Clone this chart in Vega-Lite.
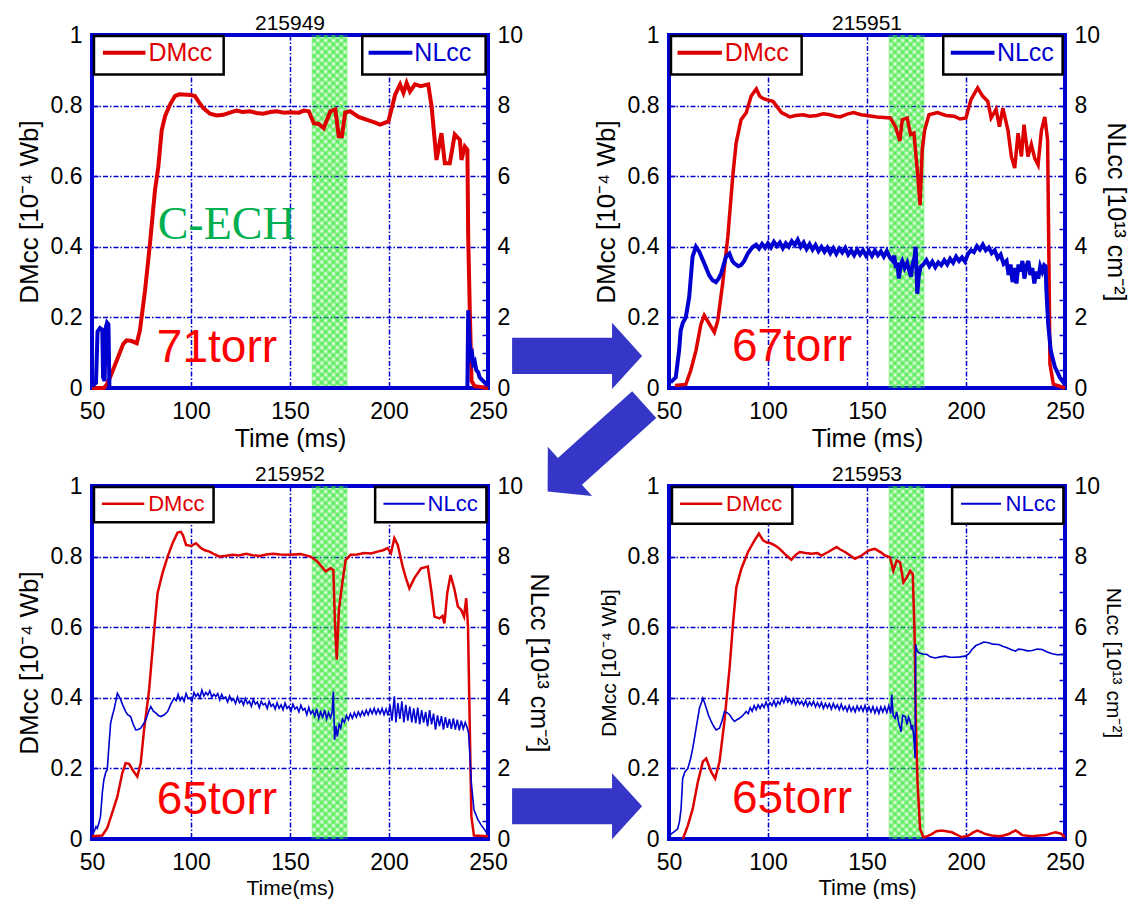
{
"$schema": "https://vega.github.io/schema/vega-lite/v6.json",
"padding": {"left": 14, "top": 11, "right": 5, "bottom": 5},
"bounds": "flush",
"columns": 2,
"spacing": {"row": 98, "column": 181},
"params": [
 {"name": "hatchA", "value": {"gradient": "linear", "x1": 0, "y1": 0, "x2": 0.11, "y2": 1.09, "stops": [
{"offset":0,"color":"rgba(40,230,40,0.6)"},{"offset":0.01,"color":"rgba(40,230,40,0)"},{"offset":0.02,"color":"rgba(40,230,40,0.6)"},{"offset":0.03,"color":"rgba(40,230,40,0)"},{"offset":0.04,"color":"rgba(40,230,40,0.6)"},{"offset":0.05,"color":"rgba(40,230,40,0)"},{"offset":0.06,"color":"rgba(40,230,40,0.6)"},{"offset":0.07,"color":"rgba(40,230,40,0)"},{"offset":0.08,"color":"rgba(40,230,40,0.6)"},{"offset":0.09,"color":"rgba(40,230,40,0)"},
{"offset":0.1,"color":"rgba(40,230,40,0.6)"},{"offset":0.11,"color":"rgba(40,230,40,0)"},{"offset":0.12,"color":"rgba(40,230,40,0.6)"},{"offset":0.13,"color":"rgba(40,230,40,0)"},{"offset":0.14,"color":"rgba(40,230,40,0.6)"},{"offset":0.15,"color":"rgba(40,230,40,0)"},{"offset":0.16,"color":"rgba(40,230,40,0.6)"},{"offset":0.17,"color":"rgba(40,230,40,0)"},{"offset":0.18,"color":"rgba(40,230,40,0.6)"},{"offset":0.19,"color":"rgba(40,230,40,0)"},
{"offset":0.2,"color":"rgba(40,230,40,0.6)"},{"offset":0.21,"color":"rgba(40,230,40,0)"},{"offset":0.22,"color":"rgba(40,230,40,0.6)"},{"offset":0.23,"color":"rgba(40,230,40,0)"},{"offset":0.24,"color":"rgba(40,230,40,0.6)"},{"offset":0.25,"color":"rgba(40,230,40,0)"},{"offset":0.26,"color":"rgba(40,230,40,0.6)"},{"offset":0.27,"color":"rgba(40,230,40,0)"},{"offset":0.28,"color":"rgba(40,230,40,0.6)"},{"offset":0.29,"color":"rgba(40,230,40,0)"},
{"offset":0.3,"color":"rgba(40,230,40,0.6)"},{"offset":0.31,"color":"rgba(40,230,40,0)"},{"offset":0.32,"color":"rgba(40,230,40,0.6)"},{"offset":0.33,"color":"rgba(40,230,40,0)"},{"offset":0.34,"color":"rgba(40,230,40,0.6)"},{"offset":0.35,"color":"rgba(40,230,40,0)"},{"offset":0.36,"color":"rgba(40,230,40,0.6)"},{"offset":0.37,"color":"rgba(40,230,40,0)"},{"offset":0.38,"color":"rgba(40,230,40,0.6)"},{"offset":0.39,"color":"rgba(40,230,40,0)"},
{"offset":0.4,"color":"rgba(40,230,40,0.6)"},{"offset":0.41,"color":"rgba(40,230,40,0)"},{"offset":0.42,"color":"rgba(40,230,40,0.6)"},{"offset":0.43,"color":"rgba(40,230,40,0)"},{"offset":0.44,"color":"rgba(40,230,40,0.6)"},{"offset":0.45,"color":"rgba(40,230,40,0)"},{"offset":0.46,"color":"rgba(40,230,40,0.6)"},{"offset":0.47,"color":"rgba(40,230,40,0)"},{"offset":0.48,"color":"rgba(40,230,40,0.6)"},{"offset":0.49,"color":"rgba(40,230,40,0)"},
{"offset":0.5,"color":"rgba(40,230,40,0.6)"},{"offset":0.51,"color":"rgba(40,230,40,0)"},{"offset":0.52,"color":"rgba(40,230,40,0.6)"},{"offset":0.53,"color":"rgba(40,230,40,0)"},{"offset":0.54,"color":"rgba(40,230,40,0.6)"},{"offset":0.55,"color":"rgba(40,230,40,0)"},{"offset":0.56,"color":"rgba(40,230,40,0.6)"},{"offset":0.57,"color":"rgba(40,230,40,0)"},{"offset":0.58,"color":"rgba(40,230,40,0.6)"},{"offset":0.59,"color":"rgba(40,230,40,0)"},
{"offset":0.6,"color":"rgba(40,230,40,0.6)"},{"offset":0.61,"color":"rgba(40,230,40,0)"},{"offset":0.62,"color":"rgba(40,230,40,0.6)"},{"offset":0.63,"color":"rgba(40,230,40,0)"},{"offset":0.64,"color":"rgba(40,230,40,0.6)"},{"offset":0.65,"color":"rgba(40,230,40,0)"},{"offset":0.66,"color":"rgba(40,230,40,0.6)"},{"offset":0.67,"color":"rgba(40,230,40,0)"},{"offset":0.68,"color":"rgba(40,230,40,0.6)"},{"offset":0.69,"color":"rgba(40,230,40,0)"},
{"offset":0.7,"color":"rgba(40,230,40,0.6)"},{"offset":0.71,"color":"rgba(40,230,40,0)"},{"offset":0.72,"color":"rgba(40,230,40,0.6)"},{"offset":0.73,"color":"rgba(40,230,40,0)"},{"offset":0.74,"color":"rgba(40,230,40,0.6)"},{"offset":0.75,"color":"rgba(40,230,40,0)"},{"offset":0.76,"color":"rgba(40,230,40,0.6)"},{"offset":0.77,"color":"rgba(40,230,40,0)"},{"offset":0.78,"color":"rgba(40,230,40,0.6)"},{"offset":0.79,"color":"rgba(40,230,40,0)"},
{"offset":0.8,"color":"rgba(40,230,40,0.6)"},{"offset":0.81,"color":"rgba(40,230,40,0)"},{"offset":0.82,"color":"rgba(40,230,40,0.6)"},{"offset":0.83,"color":"rgba(40,230,40,0)"},{"offset":0.84,"color":"rgba(40,230,40,0.6)"},{"offset":0.85,"color":"rgba(40,230,40,0)"},{"offset":0.86,"color":"rgba(40,230,40,0.6)"},{"offset":0.87,"color":"rgba(40,230,40,0)"},{"offset":0.88,"color":"rgba(40,230,40,0.6)"},{"offset":0.89,"color":"rgba(40,230,40,0)"},
{"offset":0.9,"color":"rgba(40,230,40,0.6)"},{"offset":0.91,"color":"rgba(40,230,40,0)"},{"offset":0.92,"color":"rgba(40,230,40,0.6)"},{"offset":0.93,"color":"rgba(40,230,40,0)"},{"offset":0.94,"color":"rgba(40,230,40,0.6)"},{"offset":0.95,"color":"rgba(40,230,40,0)"},{"offset":0.96,"color":"rgba(40,230,40,0.6)"},{"offset":0.97,"color":"rgba(40,230,40,0)"},{"offset":0.98,"color":"rgba(40,230,40,0.6)"},{"offset":0.99,"color":"rgba(40,230,40,0)"},{"offset":1,"color":"rgba(40,230,40,0.6)"}]}},
 {"name": "hatchB", "value": {"gradient": "linear", "x1": 1, "y1": 0, "x2": 0.89, "y2": 1.09, "stops": [
{"offset":0,"color":"rgba(40,230,40,0.6)"},{"offset":0.01,"color":"rgba(40,230,40,0)"},{"offset":0.02,"color":"rgba(40,230,40,0.6)"},{"offset":0.03,"color":"rgba(40,230,40,0)"},{"offset":0.04,"color":"rgba(40,230,40,0.6)"},{"offset":0.05,"color":"rgba(40,230,40,0)"},{"offset":0.06,"color":"rgba(40,230,40,0.6)"},{"offset":0.07,"color":"rgba(40,230,40,0)"},{"offset":0.08,"color":"rgba(40,230,40,0.6)"},{"offset":0.09,"color":"rgba(40,230,40,0)"},
{"offset":0.1,"color":"rgba(40,230,40,0.6)"},{"offset":0.11,"color":"rgba(40,230,40,0)"},{"offset":0.12,"color":"rgba(40,230,40,0.6)"},{"offset":0.13,"color":"rgba(40,230,40,0)"},{"offset":0.14,"color":"rgba(40,230,40,0.6)"},{"offset":0.15,"color":"rgba(40,230,40,0)"},{"offset":0.16,"color":"rgba(40,230,40,0.6)"},{"offset":0.17,"color":"rgba(40,230,40,0)"},{"offset":0.18,"color":"rgba(40,230,40,0.6)"},{"offset":0.19,"color":"rgba(40,230,40,0)"},
{"offset":0.2,"color":"rgba(40,230,40,0.6)"},{"offset":0.21,"color":"rgba(40,230,40,0)"},{"offset":0.22,"color":"rgba(40,230,40,0.6)"},{"offset":0.23,"color":"rgba(40,230,40,0)"},{"offset":0.24,"color":"rgba(40,230,40,0.6)"},{"offset":0.25,"color":"rgba(40,230,40,0)"},{"offset":0.26,"color":"rgba(40,230,40,0.6)"},{"offset":0.27,"color":"rgba(40,230,40,0)"},{"offset":0.28,"color":"rgba(40,230,40,0.6)"},{"offset":0.29,"color":"rgba(40,230,40,0)"},
{"offset":0.3,"color":"rgba(40,230,40,0.6)"},{"offset":0.31,"color":"rgba(40,230,40,0)"},{"offset":0.32,"color":"rgba(40,230,40,0.6)"},{"offset":0.33,"color":"rgba(40,230,40,0)"},{"offset":0.34,"color":"rgba(40,230,40,0.6)"},{"offset":0.35,"color":"rgba(40,230,40,0)"},{"offset":0.36,"color":"rgba(40,230,40,0.6)"},{"offset":0.37,"color":"rgba(40,230,40,0)"},{"offset":0.38,"color":"rgba(40,230,40,0.6)"},{"offset":0.39,"color":"rgba(40,230,40,0)"},
{"offset":0.4,"color":"rgba(40,230,40,0.6)"},{"offset":0.41,"color":"rgba(40,230,40,0)"},{"offset":0.42,"color":"rgba(40,230,40,0.6)"},{"offset":0.43,"color":"rgba(40,230,40,0)"},{"offset":0.44,"color":"rgba(40,230,40,0.6)"},{"offset":0.45,"color":"rgba(40,230,40,0)"},{"offset":0.46,"color":"rgba(40,230,40,0.6)"},{"offset":0.47,"color":"rgba(40,230,40,0)"},{"offset":0.48,"color":"rgba(40,230,40,0.6)"},{"offset":0.49,"color":"rgba(40,230,40,0)"},
{"offset":0.5,"color":"rgba(40,230,40,0.6)"},{"offset":0.51,"color":"rgba(40,230,40,0)"},{"offset":0.52,"color":"rgba(40,230,40,0.6)"},{"offset":0.53,"color":"rgba(40,230,40,0)"},{"offset":0.54,"color":"rgba(40,230,40,0.6)"},{"offset":0.55,"color":"rgba(40,230,40,0)"},{"offset":0.56,"color":"rgba(40,230,40,0.6)"},{"offset":0.57,"color":"rgba(40,230,40,0)"},{"offset":0.58,"color":"rgba(40,230,40,0.6)"},{"offset":0.59,"color":"rgba(40,230,40,0)"},
{"offset":0.6,"color":"rgba(40,230,40,0.6)"},{"offset":0.61,"color":"rgba(40,230,40,0)"},{"offset":0.62,"color":"rgba(40,230,40,0.6)"},{"offset":0.63,"color":"rgba(40,230,40,0)"},{"offset":0.64,"color":"rgba(40,230,40,0.6)"},{"offset":0.65,"color":"rgba(40,230,40,0)"},{"offset":0.66,"color":"rgba(40,230,40,0.6)"},{"offset":0.67,"color":"rgba(40,230,40,0)"},{"offset":0.68,"color":"rgba(40,230,40,0.6)"},{"offset":0.69,"color":"rgba(40,230,40,0)"},
{"offset":0.7,"color":"rgba(40,230,40,0.6)"},{"offset":0.71,"color":"rgba(40,230,40,0)"},{"offset":0.72,"color":"rgba(40,230,40,0.6)"},{"offset":0.73,"color":"rgba(40,230,40,0)"},{"offset":0.74,"color":"rgba(40,230,40,0.6)"},{"offset":0.75,"color":"rgba(40,230,40,0)"},{"offset":0.76,"color":"rgba(40,230,40,0.6)"},{"offset":0.77,"color":"rgba(40,230,40,0)"},{"offset":0.78,"color":"rgba(40,230,40,0.6)"},{"offset":0.79,"color":"rgba(40,230,40,0)"},
{"offset":0.8,"color":"rgba(40,230,40,0.6)"},{"offset":0.81,"color":"rgba(40,230,40,0)"},{"offset":0.82,"color":"rgba(40,230,40,0.6)"},{"offset":0.83,"color":"rgba(40,230,40,0)"},{"offset":0.84,"color":"rgba(40,230,40,0.6)"},{"offset":0.85,"color":"rgba(40,230,40,0)"},{"offset":0.86,"color":"rgba(40,230,40,0.6)"},{"offset":0.87,"color":"rgba(40,230,40,0)"},{"offset":0.88,"color":"rgba(40,230,40,0.6)"},{"offset":0.89,"color":"rgba(40,230,40,0)"},
{"offset":0.9,"color":"rgba(40,230,40,0.6)"},{"offset":0.91,"color":"rgba(40,230,40,0)"},{"offset":0.92,"color":"rgba(40,230,40,0.6)"},{"offset":0.93,"color":"rgba(40,230,40,0)"},{"offset":0.94,"color":"rgba(40,230,40,0.6)"},{"offset":0.95,"color":"rgba(40,230,40,0)"},{"offset":0.96,"color":"rgba(40,230,40,0.6)"},{"offset":0.97,"color":"rgba(40,230,40,0)"},{"offset":0.98,"color":"rgba(40,230,40,0.6)"},{"offset":0.99,"color":"rgba(40,230,40,0)"},{"offset":1,"color":"rgba(40,230,40,0.6)"}]}}
],
"config": {
  "font": "Liberation Sans",
  "view": {"stroke": "#0000d0", "strokeWidth": 4},
  "axis": {"labelFont": "Liberation Sans", "labelFontSize": 23, "labelColor": "#000", "titleFont": "Liberation Sans", "titleFontSize": 25, "titleFontWeight": "normal", "titleColor": "#000", "domain": false, "labelFlush": false, "labelOverlap": false},
  "title": {"font": "Liberation Sans", "fontSize": 21, "fontWeight": "normal", "color": "#000", "offset": -10},
  "style": {"group-title": {"fontSize": 21, "fontWeight": "normal", "font": "Liberation Sans"}},
  "text": {"font": "Liberation Sans"}
},
"datasets": {
  "dm1": [{"t":50,"v":0},{"t":56,"v":0},{"t":57.5,"v":0.01},{"t":59.1,"v":0.03},{"t":62.5,"v":0.078},{"t":65.8,"v":0.125},{"t":67.5,"v":0.135},{"t":70,"v":0.133},{"t":72.6,"v":0.127},{"t":74.2,"v":0.163},{"t":76.8,"v":0.277},{"t":79.3,"v":0.41},{"t":81.8,"v":0.56},{"t":83.5,"v":0.627},{"t":85.2,"v":0.73},{"t":86.9,"v":0.77},{"t":89.4,"v":0.803},{"t":91.9,"v":0.827},{"t":94,"v":0.832},{"t":97.8,"v":0.831},{"t":100,"v":0.83},{"t":102,"v":0.827},{"t":104,"v":0.81},{"t":106.2,"v":0.793},{"t":109.6,"v":0.777},{"t":113,"v":0.772},{"t":116.3,"v":0.774},{"t":120,"v":0.781},{"t":123,"v":0.786},{"t":126,"v":0.782},{"t":129.8,"v":0.784},{"t":133,"v":0.779},{"t":136.5,"v":0.777},{"t":140,"v":0.782},{"t":143.3,"v":0.784},{"t":147,"v":0.78},{"t":150,"v":0.781},{"t":154.5,"v":0.78},{"t":157,"v":0.786},{"t":159.5,"v":0.784},{"t":162,"v":0.75},{"t":164.5,"v":0.748},{"t":167,"v":0.736},{"t":170.4,"v":0.784},{"t":172.9,"v":0.789},{"t":174.6,"v":0.713},{"t":176.2,"v":0.713},{"t":177.9,"v":0.78},{"t":180.4,"v":0.784},{"t":184.6,"v":0.768},{"t":189.7,"v":0.758},{"t":193,"v":0.752},{"t":195.5,"v":0.746},{"t":199.7,"v":0.755},{"t":203.1,"v":0.831},{"t":205.6,"v":0.86},{"t":207.3,"v":0.836},{"t":208.9,"v":0.864},{"t":210.6,"v":0.84},{"t":213.1,"v":0.86},{"t":216,"v":0.855},{"t":219.8,"v":0.86},{"t":221.5,"v":0.798},{"t":224,"v":0.646},{"t":226.5,"v":0.722},{"t":228.2,"v":0.637},{"t":230.7,"v":0.637},{"t":233.2,"v":0.718},{"t":235.8,"v":0.703},{"t":236.6,"v":0.646},{"t":238.3,"v":0.684},{"t":239.6,"v":0.675},{"t":240,"v":0.43},{"t":240.8,"v":0.22},{"t":241.7,"v":0.02},{"t":243.3,"v":0.005},{"t":250,"v":0}],
  "nl1": [{"t":50,"v":0.05},{"t":52,"v":0.15},{"t":52.8,"v":1.6},{"t":54,"v":1.7},{"t":55.2,"v":1.65},{"t":55.6,"v":0.3},{"t":56.4,"v":0.2},{"t":56.9,"v":1.7},{"t":57.6,"v":1.85},{"t":58.3,"v":1.8},{"t":58.8,"v":0},{"t":150,"v":0},{"t":239.6,"v":0},{"t":240,"v":2.2},{"t":240.6,"v":1.4},{"t":241.3,"v":0.87},{"t":242,"v":0.95},{"t":242.5,"v":0.68},{"t":243.3,"v":0.75},{"t":244.1,"v":0.5},{"t":245,"v":0.45},{"t":245.8,"v":0.3},{"t":247.5,"v":0.2},{"t":250,"v":0.05}],
  "dm2": [{"t":53,"v":0.007},{"t":58.5,"v":0.01},{"t":61,"v":0.05},{"t":63.6,"v":0.106},{"t":66.1,"v":0.18},{"t":67.8,"v":0.206},{"t":70.3,"v":0.182},{"t":72.9,"v":0.158},{"t":74.6,"v":0.19},{"t":77.1,"v":0.296},{"t":79.7,"v":0.428},{"t":82.2,"v":0.6},{"t":83.9,"v":0.694},{"t":86.4,"v":0.76},{"t":89,"v":0.78},{"t":91.5,"v":0.827},{"t":94.1,"v":0.847},{"t":95.8,"v":0.827},{"t":97.5,"v":0.82},{"t":99.2,"v":0.817},{"t":102.5,"v":0.812},{"t":105.1,"v":0.793},{"t":106.8,"v":0.78},{"t":111,"v":0.768},{"t":114,"v":0.772},{"t":117.8,"v":0.774},{"t":121,"v":0.77},{"t":124.6,"v":0.772},{"t":128,"v":0.777},{"t":131.4,"v":0.774},{"t":134,"v":0.77},{"t":136.4,"v":0.768},{"t":140,"v":0.776},{"t":143.2,"v":0.78},{"t":147,"v":0.774},{"t":150,"v":0.772},{"t":155,"v":0.768},{"t":161.8,"v":0.765},{"t":164.4,"v":0.74},{"t":166.6,"v":0.7},{"t":167.8,"v":0.76},{"t":170.3,"v":0.765},{"t":172,"v":0.718},{"t":173.7,"v":0.722},{"t":175.4,"v":0.618},{"t":176.8,"v":0.518},{"t":177.9,"v":0.675},{"t":179.1,"v":0.73},{"t":181.3,"v":0.774},{"t":185.6,"v":0.78},{"t":189.8,"v":0.772},{"t":194,"v":0.77},{"t":197,"v":0.762},{"t":200,"v":0.765},{"t":202.5,"v":0.817},{"t":205.9,"v":0.85},{"t":208.4,"v":0.827},{"t":211,"v":0.812},{"t":212.7,"v":0.765},{"t":215.2,"v":0.789},{"t":216.9,"v":0.74},{"t":218.6,"v":0.793},{"t":221.2,"v":0.73},{"t":222.9,"v":0.656},{"t":224.6,"v":0.623},{"t":226.3,"v":0.722},{"t":228,"v":0.656},{"t":229.3,"v":0.746},{"t":231.3,"v":0.656},{"t":233,"v":0.69},{"t":234.7,"v":0.651},{"t":236.4,"v":0.632},{"t":238.1,"v":0.73},{"t":239.8,"v":0.768},{"t":241.2,"v":0.703},{"t":241.9,"v":0.353},{"t":242.4,"v":0.068},{"t":244.1,"v":0.011},{"t":250,"v":0}],
  "nl2": [{"t":50.8,"v":0.16},{"t":53.4,"v":0.3},{"t":55.1,"v":1.06},{"t":55.9,"v":1.63},{"t":57,"v":1.85},{"t":58.5,"v":2.0},{"t":60.2,"v":2.58},{"t":61.9,"v":3.72},{"t":63.6,"v":4.0},{"t":65.3,"v":3.86},{"t":67.8,"v":3.53},{"t":70.3,"v":3.19},{"t":72,"v":3.05},{"t":73.7,"v":3.0},{"t":75,"v":3.1},{"t":76.3,"v":3.24},{"t":78.8,"v":3.72},{"t":80.5,"v":3.81},{"t":82,"v":3.6},{"t":83,"v":3.53},{"t":85,"v":3.45},{"t":86.4,"v":3.48},{"t":88,"v":3.6},{"t":89.8,"v":3.81},{"t":91,"v":3.9},{"t":92.4,"v":4.0},{"t":94,"v":4.06},{"t":95.5,"v":3.95},{"t":97,"v":4.08},{"t":98.5,"v":3.97},{"t":100,"v":4.1},{"t":101.5,"v":3.98},{"t":103,"v":4.14},{"t":104.5,"v":4.02},{"t":106,"v":4.12},{"t":107.5,"v":3.96},{"t":109,"v":4.1},{"t":110.5,"v":4.0},{"t":112,"v":4.16},{"t":113.5,"v":4.05},{"t":115,"v":4.2},{"t":116.5,"v":4.0},{"t":118,"v":4.12},{"t":119.5,"v":3.94},{"t":121,"v":4.08},{"t":122.5,"v":3.92},{"t":124,"v":4.05},{"t":125.5,"v":3.88},{"t":127,"v":4.0},{"t":128.5,"v":3.86},{"t":130,"v":3.98},{"t":131.5,"v":3.82},{"t":133,"v":3.96},{"t":134.5,"v":3.8},{"t":136,"v":3.95},{"t":137.5,"v":3.84},{"t":139,"v":3.97},{"t":140.5,"v":3.78},{"t":142,"v":3.9},{"t":143.5,"v":3.76},{"t":145,"v":3.92},{"t":146.5,"v":3.78},{"t":148,"v":3.9},{"t":149.5,"v":3.75},{"t":151,"v":3.88},{"t":152.5,"v":3.74},{"t":154,"v":3.9},{"t":155.5,"v":3.76},{"t":157,"v":3.87},{"t":158.5,"v":3.72},{"t":160,"v":3.88},{"t":161.5,"v":3.7},{"t":163,"v":3.6},{"t":163.8,"v":3.75},{"t":164.5,"v":3.4},{"t":165.3,"v":3.55},{"t":166.1,"v":3.1},{"t":167,"v":3.5},{"t":167.8,"v":3.6},{"t":169,"v":3.4},{"t":170.3,"v":3.55},{"t":171.2,"v":3.35},{"t":172.2,"v":3.15},{"t":173,"v":3.5},{"t":174,"v":3.7},{"t":174.6,"v":4.0},{"t":175,"v":3.3},{"t":175.4,"v":2.67},{"t":176.2,"v":3.2},{"t":177.1,"v":3.43},{"t":178.5,"v":3.5},{"t":180,"v":3.62},{"t":181.5,"v":3.45},{"t":183,"v":3.58},{"t":184.5,"v":3.42},{"t":186,"v":3.56},{"t":187.5,"v":3.48},{"t":189,"v":3.62},{"t":190.5,"v":3.5},{"t":192,"v":3.66},{"t":193.5,"v":3.55},{"t":195,"v":3.72},{"t":196.5,"v":3.6},{"t":198,"v":3.7},{"t":199.5,"v":3.58},{"t":201,"v":3.8},{"t":202.5,"v":3.9},{"t":204,"v":3.85},{"t":205.5,"v":4.02},{"t":207,"v":3.92},{"t":208.5,"v":4.06},{"t":210,"v":3.9},{"t":211.5,"v":3.98},{"t":213,"v":3.82},{"t":214.5,"v":3.9},{"t":216,"v":3.68},{"t":217.5,"v":3.78},{"t":219,"v":3.52},{"t":220.5,"v":3.6},{"t":221.5,"v":3.2},{"t":222.5,"v":3.5},{"t":223.5,"v":3.0},{"t":224.5,"v":3.4},{"t":225.5,"v":2.96},{"t":226.5,"v":3.5},{"t":227.5,"v":3.3},{"t":228.5,"v":3.6},{"t":229.5,"v":3.1},{"t":230.5,"v":3.45},{"t":231.5,"v":3.6},{"t":232.5,"v":3.2},{"t":233.5,"v":3.4},{"t":234.5,"v":2.96},{"t":235.5,"v":3.3},{"t":236.5,"v":3.1},{"t":237.5,"v":3.45},{"t":238.5,"v":3.3},{"t":239.5,"v":3.48},{"t":240.2,"v":3.45},{"t":240.6,"v":2.77},{"t":241.5,"v":1.82},{"t":242.8,"v":1.06},{"t":244.9,"v":0.59},{"t":247.4,"v":0.3},{"t":250,"v":0.1}],
  "dm3": [{"t":50,"v":0.008},{"t":55.2,"v":0.01},{"t":57.7,"v":0.031},{"t":60.2,"v":0.074},{"t":62.8,"v":0.12},{"t":65.3,"v":0.187},{"t":67,"v":0.215},{"t":68.7,"v":0.213},{"t":71.2,"v":0.19},{"t":72.9,"v":0.177},{"t":74.6,"v":0.215},{"t":76.3,"v":0.31},{"t":78.8,"v":0.42},{"t":81.4,"v":0.59},{"t":83.1,"v":0.696},{"t":85.6,"v":0.753},{"t":88.2,"v":0.8},{"t":90.7,"v":0.838},{"t":93.2,"v":0.868},{"t":94.9,"v":0.87},{"t":96,"v":0.86},{"t":97.5,"v":0.833},{"t":100,"v":0.83},{"t":102.5,"v":0.838},{"t":105.1,"v":0.824},{"t":107,"v":0.818},{"t":109.3,"v":0.814},{"t":112,"v":0.806},{"t":114.4,"v":0.8},{"t":117,"v":0.802},{"t":121.2,"v":0.805},{"t":124,"v":0.803},{"t":127.9,"v":0.808},{"t":131,"v":0.804},{"t":134.7,"v":0.802},{"t":138,"v":0.806},{"t":141.5,"v":0.808},{"t":145,"v":0.806},{"t":149.9,"v":0.805},{"t":155.3,"v":0.807},{"t":160.4,"v":0.8},{"t":163.8,"v":0.786},{"t":168,"v":0.758},{"t":170.5,"v":0.767},{"t":171.9,"v":0.762},{"t":172.7,"v":0.611},{"t":173.6,"v":0.508},{"t":174.7,"v":0.649},{"t":176.4,"v":0.725},{"t":178.1,"v":0.79},{"t":180.6,"v":0.805},{"t":184,"v":0.806},{"t":187.4,"v":0.81},{"t":191,"v":0.809},{"t":194.2,"v":0.814},{"t":197,"v":0.818},{"t":199.3,"v":0.824},{"t":201,"v":0.81},{"t":202.7,"v":0.852},{"t":204.4,"v":0.833},{"t":206.9,"v":0.772},{"t":208.5,"v":0.74},{"t":210.3,"v":0.71},{"t":212.8,"v":0.739},{"t":216.2,"v":0.767},{"t":219.6,"v":0.772},{"t":221.3,"v":0.706},{"t":223,"v":0.63},{"t":225.5,"v":0.625},{"t":227,"v":0.632},{"t":228,"v":0.611},{"t":229.4,"v":0.696},{"t":231.1,"v":0.748},{"t":233.1,"v":0.706},{"t":234.8,"v":0.658},{"t":236.5,"v":0.649},{"t":237.9,"v":0.63},{"t":239,"v":0.682},{"t":239.9,"v":0.602},{"t":240.7,"v":0.347},{"t":241.6,"v":0.064},{"t":242.9,"v":0.01},{"t":250,"v":0.008}],
  "nl3": [{"t":50.1,"v":0.26},{"t":51,"v":0.2},{"t":52,"v":0.35},{"t":52.6,"v":0.3},{"t":53.5,"v":0.45},{"t":54.3,"v":0.64},{"t":55.2,"v":1.3},{"t":56,"v":1.68},{"t":57,"v":1.9},{"t":57.7,"v":1.96},{"t":58.5,"v":2.6},{"t":59.4,"v":3.28},{"t":60.3,"v":3.5},{"t":61.1,"v":3.66},{"t":62,"v":3.9},{"t":62.8,"v":4.13},{"t":63.6,"v":4.05},{"t":64.5,"v":3.94},{"t":65.5,"v":3.8},{"t":67,"v":3.61},{"t":68,"v":3.52},{"t":69.5,"v":3.47},{"t":70.8,"v":3.25},{"t":72.1,"v":3.09},{"t":73.3,"v":3.1},{"t":74.6,"v":3.14},{"t":75.9,"v":3.25},{"t":77.2,"v":3.38},{"t":78.5,"v":3.6},{"t":79.7,"v":3.75},{"t":81,"v":3.62},{"t":82.2,"v":3.57},{"t":83.5,"v":3.5},{"t":84.8,"v":3.47},{"t":86.5,"v":3.52},{"t":88.2,"v":3.61},{"t":89.8,"v":3.82},{"t":91.5,"v":3.99},{"t":92.5,"v":3.92},{"t":93.5,"v":4.1},{"t":94.5,"v":3.93},{"t":95.5,"v":4.02},{"t":96.5,"v":3.9},{"t":97.5,"v":4.12},{"t":98.5,"v":3.98},{"t":99.5,"v":4.0},{"t":100.5,"v":3.9},{"t":101.5,"v":4.15},{"t":102.5,"v":4.04},{"t":103.5,"v":4.12},{"t":104.5,"v":4.0},{"t":105.5,"v":4.22},{"t":106.5,"v":4.05},{"t":107.5,"v":4.15},{"t":108.5,"v":4.08},{"t":109.5,"v":4.2},{"t":110.5,"v":4.02},{"t":111.5,"v":4.1},{"t":112.5,"v":4.04},{"t":113.5,"v":4.12},{"t":114.5,"v":3.94},{"t":115.5,"v":4.1},{"t":116.5,"v":3.98},{"t":117.5,"v":4.02},{"t":118.5,"v":3.88},{"t":119.5,"v":4.05},{"t":120.5,"v":3.92},{"t":121.5,"v":3.97},{"t":122.5,"v":3.84},{"t":123.5,"v":4.02},{"t":124.5,"v":3.86},{"t":125.5,"v":3.93},{"t":126.5,"v":3.8},{"t":127.5,"v":3.98},{"t":128.5,"v":3.84},{"t":129.5,"v":3.9},{"t":130.5,"v":3.76},{"t":131.5,"v":3.95},{"t":132.5,"v":3.82},{"t":133.5,"v":3.88},{"t":134.5,"v":3.72},{"t":135.5,"v":3.9},{"t":136.5,"v":3.8},{"t":137.5,"v":3.84},{"t":138.5,"v":3.7},{"t":139.5,"v":3.9},{"t":140.5,"v":3.76},{"t":141.5,"v":3.82},{"t":142.5,"v":3.68},{"t":143.5,"v":3.86},{"t":144.5,"v":3.7},{"t":145.5,"v":3.8},{"t":146.5,"v":3.66},{"t":147.5,"v":3.85},{"t":148.5,"v":3.7},{"t":149.5,"v":3.76},{"t":150.5,"v":3.62},{"t":151.5,"v":3.82},{"t":152.5,"v":3.68},{"t":153.5,"v":3.74},{"t":154.5,"v":3.6},{"t":155.5,"v":3.79},{"t":156.5,"v":3.65},{"t":157.5,"v":3.7},{"t":158.5,"v":3.52},{"t":159.5,"v":3.73},{"t":160.5,"v":3.55},{"t":161.5,"v":3.64},{"t":162.5,"v":3.48},{"t":163.5,"v":3.69},{"t":164.5,"v":3.42},{"t":165.5,"v":3.6},{"t":166.5,"v":3.45},{"t":167.5,"v":3.66},{"t":168.5,"v":3.4},{"t":169.5,"v":3.58},{"t":170.5,"v":3.44},{"t":171.3,"v":3.6},{"t":171.9,"v":4.18},{"t":172.5,"v":2.81},{"t":173.2,"v":3.2},{"t":173.9,"v":2.9},{"t":174.8,"v":3.25},{"t":175.6,"v":3.15},{"t":176.5,"v":3.4},{"t":177.5,"v":3.3},{"t":178.5,"v":3.5},{"t":179.5,"v":3.38},{"t":180.5,"v":3.55},{"t":181.5,"v":3.42},{"t":182.5,"v":3.58},{"t":183.5,"v":3.45},{"t":184.5,"v":3.6},{"t":185.5,"v":3.48},{"t":186.5,"v":3.62},{"t":187.5,"v":3.5},{"t":188.5,"v":3.65},{"t":189.5,"v":3.52},{"t":190.5,"v":3.68},{"t":191.5,"v":3.55},{"t":192.5,"v":3.7},{"t":193.5,"v":3.54},{"t":194.5,"v":3.68},{"t":195.5,"v":3.55},{"t":196.5,"v":3.7},{"t":197.5,"v":3.52},{"t":198.5,"v":3.68},{"t":199.5,"v":3.5},{"t":200.5,"v":3.8},{"t":201.5,"v":3.35},{"t":202.7,"v":4.04},{"t":203.5,"v":3.3},{"t":204.5,"v":3.85},{"t":205.5,"v":3.4},{"t":206.5,"v":3.9},{"t":207.5,"v":3.3},{"t":208.5,"v":3.8},{"t":209.5,"v":3.35},{"t":210.5,"v":3.75},{"t":211.5,"v":3.3},{"t":212.5,"v":3.7},{"t":213.5,"v":3.28},{"t":214.5,"v":3.72},{"t":215.5,"v":3.25},{"t":216.5,"v":3.65},{"t":217.5,"v":3.3},{"t":218.5,"v":3.6},{"t":219.5,"v":3.2},{"t":220.5,"v":3.65},{"t":221.5,"v":3.25},{"t":222.5,"v":3.55},{"t":223.5,"v":3.1},{"t":224.5,"v":3.5},{"t":225.5,"v":3.2},{"t":226.5,"v":3.48},{"t":227.5,"v":3.1},{"t":228.5,"v":3.45},{"t":229.5,"v":3.15},{"t":230.5,"v":3.4},{"t":231.5,"v":3.12},{"t":232.5,"v":3.42},{"t":233.5,"v":3.1},{"t":234.5,"v":3.38},{"t":235.5,"v":3.08},{"t":236.5,"v":3.35},{"t":237.5,"v":3.12},{"t":238.5,"v":3.3},{"t":239.5,"v":3.15},{"t":240.2,"v":3.0},{"t":240.7,"v":2.53},{"t":241.6,"v":1.58},{"t":242.9,"v":0.83},{"t":244.9,"v":0.55},{"t":246.5,"v":0.4},{"t":248.3,"v":0.26},{"t":250,"v":0.12}],
  "dm4": [{"t":57,"v":0},{"t":59.5,"v":0.038},{"t":62,"v":0.086},{"t":64.5,"v":0.16},{"t":67.1,"v":0.219},{"t":68.8,"v":0.228},{"t":71.3,"v":0.19},{"t":73.3,"v":0.171},{"t":75.5,"v":0.219},{"t":78,"v":0.333},{"t":80.6,"v":0.485},{"t":82.3,"v":0.608},{"t":84,"v":0.713},{"t":86.5,"v":0.765},{"t":89.9,"v":0.813},{"t":93.2,"v":0.846},{"t":95.4,"v":0.865},{"t":97.5,"v":0.846},{"t":99.5,"v":0.84},{"t":101.7,"v":0.837},{"t":104,"v":0.83},{"t":105.9,"v":0.822},{"t":109.3,"v":0.803},{"t":111.8,"v":0.791},{"t":114,"v":0.805},{"t":116,"v":0.813},{"t":119,"v":0.81},{"t":122,"v":0.808},{"t":125,"v":0.81},{"t":127,"v":0.803},{"t":130.4,"v":0.813},{"t":132.5,"v":0.82},{"t":134.6,"v":0.827},{"t":136.5,"v":0.82},{"t":138.9,"v":0.813},{"t":141,"v":0.805},{"t":143.9,"v":0.794},{"t":147.3,"v":0.803},{"t":150.7,"v":0.817},{"t":152.5,"v":0.82},{"t":154,"v":0.822},{"t":157,"v":0.812},{"t":159.1,"v":0.803},{"t":161.6,"v":0.798},{"t":163.3,"v":0.76},{"t":165,"v":0.789},{"t":166.7,"v":0.784},{"t":168.4,"v":0.727},{"t":170.1,"v":0.741},{"t":171.8,"v":0.76},{"t":173.1,"v":0.751},{"t":174,"v":0.589},{"t":174.6,"v":0.352},{"t":175.5,"v":0.162},{"t":176.8,"v":0.029},{"t":178.5,"v":0.005},{"t":180.5,"v":0.008},{"t":182.7,"v":0.014},{"t":185,"v":0.022},{"t":187.8,"v":0.024},{"t":190,"v":0.022},{"t":192.9,"v":0.019},{"t":195.5,"v":0.012},{"t":197.9,"v":0.005},{"t":201.3,"v":0.01},{"t":203.5,"v":0.018},{"t":205.6,"v":0.024},{"t":207.5,"v":0.02},{"t":209.8,"v":0.014},{"t":213,"v":0.01},{"t":216.5,"v":0.008},{"t":219,"v":0.01},{"t":221.6,"v":0.014},{"t":223.5,"v":0.02},{"t":225,"v":0.024},{"t":226.7,"v":0.018},{"t":228.4,"v":0.011},{"t":231,"v":0.009},{"t":233.5,"v":0.008},{"t":237,"v":0.01},{"t":240.2,"v":0.011},{"t":243,"v":0.016},{"t":245.3,"v":0.019},{"t":248,"v":0.015},{"t":250,"v":0.005}],
  "nl4": [{"t":50,"v":0.05},{"t":51,"v":0.14},{"t":52.5,"v":0.2},{"t":54.4,"v":0.29},{"t":55.3,"v":0.5},{"t":56.1,"v":0.86},{"t":56.9,"v":1.71},{"t":58,"v":1.9},{"t":59.5,"v":2.0},{"t":60.8,"v":2.25},{"t":62,"v":2.57},{"t":63.7,"v":3.14},{"t":65.4,"v":3.71},{"t":66.3,"v":3.85},{"t":67.1,"v":3.99},{"t":68,"v":3.85},{"t":68.8,"v":3.71},{"t":70,"v":3.5},{"t":71.3,"v":3.33},{"t":72.5,"v":3.2},{"t":73.8,"v":3.09},{"t":75.5,"v":3.14},{"t":76.8,"v":3.35},{"t":78,"v":3.61},{"t":79.3,"v":3.58},{"t":80.6,"v":3.52},{"t":82,"v":3.4},{"t":83.1,"v":3.33},{"t":84.3,"v":3.38},{"t":85.6,"v":3.42},{"t":87.3,"v":3.5},{"t":89,"v":3.61},{"t":90,"v":3.55},{"t":91,"v":3.72},{"t":92,"v":3.62},{"t":93,"v":3.78},{"t":94,"v":3.66},{"t":95,"v":3.8},{"t":96,"v":3.7},{"t":97,"v":3.82},{"t":98,"v":3.72},{"t":99,"v":3.88},{"t":100,"v":3.74},{"t":101,"v":3.86},{"t":102,"v":3.78},{"t":103,"v":3.92},{"t":104,"v":3.76},{"t":105,"v":3.9},{"t":106,"v":3.82},{"t":107,"v":3.98},{"t":108,"v":3.86},{"t":109,"v":4.02},{"t":110,"v":3.88},{"t":111,"v":3.96},{"t":112,"v":3.84},{"t":113,"v":3.97},{"t":114,"v":3.8},{"t":115,"v":3.93},{"t":116,"v":3.82},{"t":117,"v":3.9},{"t":118,"v":3.78},{"t":119,"v":3.92},{"t":120,"v":3.76},{"t":121,"v":3.88},{"t":122,"v":3.78},{"t":123,"v":3.9},{"t":124,"v":3.74},{"t":125,"v":3.86},{"t":126,"v":3.74},{"t":127,"v":3.87},{"t":128,"v":3.7},{"t":129,"v":3.84},{"t":130,"v":3.72},{"t":131,"v":3.83},{"t":132,"v":3.68},{"t":133,"v":3.84},{"t":134,"v":3.7},{"t":135,"v":3.8},{"t":136,"v":3.66},{"t":137,"v":3.82},{"t":138,"v":3.66},{"t":139,"v":3.76},{"t":140,"v":3.62},{"t":141,"v":3.78},{"t":142,"v":3.62},{"t":143,"v":3.74},{"t":144,"v":3.6},{"t":145,"v":3.77},{"t":146,"v":3.64},{"t":147,"v":3.76},{"t":148,"v":3.62},{"t":149,"v":3.78},{"t":150,"v":3.6},{"t":151,"v":3.74},{"t":152,"v":3.6},{"t":153,"v":3.75},{"t":154,"v":3.57},{"t":155,"v":3.72},{"t":156,"v":3.56},{"t":157,"v":3.74},{"t":158,"v":3.6},{"t":159,"v":3.75},{"t":160,"v":3.58},{"t":161,"v":3.78},{"t":162,"v":3.55},{"t":162.5,"v":4.09},{"t":163.2,"v":3.5},{"t":164.2,"v":3.42},{"t":165,"v":3.6},{"t":166,"v":3.3},{"t":167.2,"v":3.04},{"t":168,"v":3.5},{"t":169.3,"v":3.47},{"t":170.2,"v":3.25},{"t":171,"v":3.45},{"t":171.8,"v":3.33},{"t":172.5,"v":3.1},{"t":173,"v":3.23},{"t":173.6,"v":2.9},{"t":174,"v":2.57},{"t":174.3,"v":2.28},{"t":174.6,"v":5.51},{"t":175.2,"v":5.35},{"t":176,"v":5.28},{"t":178,"v":5.24},{"t":180.2,"v":5.23},{"t":182,"v":5.16},{"t":184.4,"v":5.13},{"t":187,"v":5.16},{"t":189.5,"v":5.18},{"t":192,"v":5.15},{"t":194.6,"v":5.15},{"t":197,"v":5.16},{"t":199.6,"v":5.18},{"t":201.5,"v":5.25},{"t":203,"v":5.37},{"t":205,"v":5.48},{"t":207.2,"v":5.53},{"t":209,"v":5.58},{"t":211.4,"v":5.56},{"t":213.5,"v":5.52},{"t":216.5,"v":5.51},{"t":218.5,"v":5.46},{"t":220.7,"v":5.42},{"t":223,"v":5.36},{"t":225,"v":5.32},{"t":226.5,"v":5.38},{"t":228.4,"v":5.37},{"t":231,"v":5.33},{"t":233.5,"v":5.34},{"t":236,"v":5.38},{"t":238.5,"v":5.37},{"t":241,"v":5.3},{"t":243.6,"v":5.25},{"t":246,"v":5.22},{"t":248.7,"v":5.23},{"t":250,"v":5.22}]
},
"concat": [
{
 "title": {"text": "215949", "fontSize": 21, "offset": -10},
 "width": 396, "height": 353,
 "layer": [
  {"layer": [
   {"data": {"values": [{}]}, "mark": {"type": "rect", "fill": {"expr": "hatchA"}, "strokeWidth": 0},
    "encoding": {
     "x": {"datum": 161, "type": "quantitative", "scale": {"domain": [50, 250], "nice": false, "zero": false},
       "axis": {"values": [50,100,150,200,250], "title": "Time (ms)", "titleFontSize": 25, "grid": true, "gridColor": "#0000d0", "gridDash": [5,2,1.5,2], "gridWidth": 1.5, "gridOpacity": {"condition": {"test": "datum.value>60 && datum.value<240", "value": 1}, "value": 0}, "ticks": false, "tickSize": 0, "labelPadding": 12, "titlePadding": 3, "format": "d"}},
     "x2": {"datum": 179},
     "y": {"datum": 0, "type": "quantitative", "scale": {"domain": [0, 1], "nice": false, "zero": false},
       "axis": {"orient": "left", "values": [0,0.05,0.1,0.15,0.2,0.25,0.3,0.35,0.4,0.45,0.5,0.55,0.6,0.65,0.7,0.75,0.8,0.85,0.9,0.95,1], "title": "DMcc [10⁻⁴ Wb]", "titleFontSize": 26, "grid": true, "gridColor": "#0000d0", "gridDash": [5,2,1.5,2], "gridWidth": 1.5, "gridOpacity": {"condition": {"test": "datum.value>0.01 && datum.value<0.99 && abs(datum.value*5-round(datum.value*5))<0.001", "value": 1}, "value": 0}, "tickSize": -6, "tickColor": "#0000d0", "tickWidth": 1.5, "labelPadding": 16, "labelExpr": "abs(datum.value*5-round(datum.value*5))<0.001 ? format(datum.value,'~g') : ''", "titlePadding": 8}},
     "y2": {"datum": 1}}},
   {"data": {"values": [{}]}, "mark": {"type": "rect", "fill": {"expr": "hatchB"}, "strokeWidth": 0}, "encoding": {"x": {"datum": 161}, "x2": {"datum": 179}, "y": {"datum": 0}, "y2": {"datum": 1}}},
   {"data": {"values": [{}]}, "mark": {"type": "rect", "fill": "white", "stroke": "black", "strokeWidth": 2.5}, "encoding": {"x": {"datum": 51}, "x2": {"datum": 116.5}, "y": {"datum": 0.888}, "y2": {"datum": 0.997}}},
   {"data": {"values": [{}]}, "mark": {"type": "rect", "fill": "white", "stroke": "black", "strokeWidth": 2.5}, "encoding": {"x": {"datum": 186.5}, "x2": {"datum": 248.8}, "y": {"datum": 0.888}, "y2": {"datum": 0.997}}},
   {"data": {"values": [{}]}, "mark": {"type": "rule", "color": "#dd0000", "strokeWidth": 4}, "encoding": {"x": {"datum": 55.5}, "x2": {"datum": 77}, "y": {"datum": 0.95}}},
   {"data": {"values": [{}]}, "mark": {"type": "rule", "color": "#0000d0", "strokeWidth": 4}, "encoding": {"x": {"datum": 189.7}, "x2": {"datum": 211.8}, "y": {"datum": 0.95}}},
   {"data": {"values": [{}]}, "mark": {"type": "text", "text": "DMcc", "fontSize": 25, "color": "#dd0000", "align": "left", "baseline": "middle"}, "encoding": {"x": {"datum": 78.5}, "y": {"datum": 0.95}}},
   {"data": {"values": [{}]}, "mark": {"type": "text", "text": "NLcc", "fontSize": 25, "color": "#0000d0", "align": "left", "baseline": "middle"}, "encoding": {"x": {"datum": 212.8}, "y": {"datum": 0.95}}},
   {"data": {"values": [{}]}, "mark": {"type": "text", "text": "71torr", "fontSize": 46, "color": "#ff0000", "align": "center", "baseline": "alphabetic"}, "encoding": {"x": {"datum": 113.1}, "y": {"datum": 0.074}}},
   {"data": {"values": [{}]}, "mark": {"type": "text", "text": "C-ECH", "font": "Liberation Serif", "fontSize": 46, "color": "#00b050", "align": "center", "baseline": "alphabetic"}, "encoding": {"x": {"datum": 118}, "y": {"datum": 0.422}}},
   {"data": {"values": [{}]}, "mark": {"type": "point", "shape": "M-1,-0.277L0.538,-0.277L0.538,-0.508L1,0L0.538,0.508L0.538,0.277L-1,0.277Z", "size": 16900, "filled": true, "color": "#3535c8", "opacity": 1, "strokeWidth": 0}, "encoding": {"x": {"datum": 295}, "y": {"datum": 0.091}}},
   {"data": {"values": [{}]}, "mark": {"type": "point", "shape": "M-1,-0.277L0.538,-0.277L0.538,-0.508L1,0L0.538,0.508L0.538,0.277L-1,0.277Z", "size": 16900, "angle": 138, "filled": true, "color": "#3535c8", "opacity": 1, "strokeWidth": 0}, "encoding": {"x": {"datum": 304.5}, "y": {"datum": -0.17}}},
   {"data": {"name": "dm1"}, "mark": {"type": "line", "color": "#dd0000", "strokeWidth": 4}, "encoding": {"x": {"field": "t", "type": "quantitative"}, "y": {"field": "v", "type": "quantitative"}}}
  ]},
  {"data": {"name": "nl1"}, "mark": {"type": "line", "color": "#0000d0", "strokeWidth": 4},
   "encoding": {"x": {"field": "t", "type": "quantitative"},
    "y": {"field": "v", "type": "quantitative", "scale": {"domain": [0, 10], "nice": false, "zero": false},
     "axis": {"orient": "right", "values": [0,0.5,1,1.5,2,2.5,3,3.5,4,4.5,5,5.5,6,6.5,7,7.5,8,8.5,9,9.5,10], "title": null, "grid": false, "tickSize": -6, "tickColor": "#0000d0", "tickWidth": 1.5, "labelPadding": 15, "labelExpr": "datum.value%2==0 ? format(datum.value,'~g') : ''"}}}}
 ],
 "resolve": {"scale": {"y": "independent"}}
},
{
 "title": {"text": "215951", "fontSize": 21, "offset": -10},
 "width": 396, "height": 353,
 "layer": [
  {"layer": [
   {"data": {"values": [{}]}, "mark": {"type": "rect", "fill": {"expr": "hatchA"}, "strokeWidth": 0},
    "encoding": {
     "x": {"datum": 161, "type": "quantitative", "scale": {"domain": [50, 250], "nice": false, "zero": false},
       "axis": {"values": [50,100,150,200,250], "title": "Time (ms)", "titleFontSize": 25, "grid": true, "gridColor": "#0000d0", "gridDash": [5,2,1.5,2], "gridWidth": 1.5, "gridOpacity": {"condition": {"test": "datum.value>60 && datum.value<240", "value": 1}, "value": 0}, "ticks": false, "tickSize": 0, "labelPadding": 12, "titlePadding": 3, "format": "d"}},
     "x2": {"datum": 179},
     "y": {"datum": 0, "type": "quantitative", "scale": {"domain": [0, 1], "nice": false, "zero": false},
       "axis": {"orient": "left", "values": [0,0.05,0.1,0.15,0.2,0.25,0.3,0.35,0.4,0.45,0.5,0.55,0.6,0.65,0.7,0.75,0.8,0.85,0.9,0.95,1], "title": "DMcc [10⁻⁴ Wb]", "titleFontSize": 26, "grid": true, "gridColor": "#0000d0", "gridDash": [5,2,1.5,2], "gridWidth": 1.5, "gridOpacity": {"condition": {"test": "datum.value>0.01 && datum.value<0.99 && abs(datum.value*5-round(datum.value*5))<0.001", "value": 1}, "value": 0}, "tickSize": -6, "tickColor": "#0000d0", "tickWidth": 1.5, "labelPadding": 16, "labelExpr": "abs(datum.value*5-round(datum.value*5))<0.001 ? format(datum.value,'~g') : ''", "titlePadding": 8}},
     "y2": {"datum": 1}}},
   {"data": {"values": [{}]}, "mark": {"type": "rect", "fill": {"expr": "hatchB"}, "strokeWidth": 0}, "encoding": {"x": {"datum": 161}, "x2": {"datum": 179}, "y": {"datum": 0}, "y2": {"datum": 1}}},
   {"data": {"values": [{}]}, "mark": {"type": "rect", "fill": "white", "stroke": "black", "strokeWidth": 2.5}, "encoding": {"x": {"datum": 51}, "x2": {"datum": 117}, "y": {"datum": 0.888}, "y2": {"datum": 0.997}}},
   {"data": {"values": [{}]}, "mark": {"type": "rect", "fill": "white", "stroke": "black", "strokeWidth": 2.5}, "encoding": {"x": {"datum": 188.5}, "x2": {"datum": 248.8}, "y": {"datum": 0.888}, "y2": {"datum": 0.997}}},
   {"data": {"values": [{}]}, "mark": {"type": "rule", "color": "#dd0000", "strokeWidth": 4}, "encoding": {"x": {"datum": 54.3}, "x2": {"datum": 76.7}, "y": {"datum": 0.95}}},
   {"data": {"values": [{}]}, "mark": {"type": "rule", "color": "#0000d0", "strokeWidth": 4}, "encoding": {"x": {"datum": 192.3}, "x2": {"datum": 214.4}, "y": {"datum": 0.95}}},
   {"data": {"values": [{}]}, "mark": {"type": "text", "text": "DMcc", "fontSize": 25, "color": "#dd0000", "align": "left", "baseline": "middle"}, "encoding": {"x": {"datum": 78.2}, "y": {"datum": 0.95}}},
   {"data": {"values": [{}]}, "mark": {"type": "text", "text": "NLcc", "fontSize": 25, "color": "#0000d0", "align": "left", "baseline": "middle"}, "encoding": {"x": {"datum": 215.6}, "y": {"datum": 0.95}}},
   {"data": {"values": [{}]}, "mark": {"type": "text", "text": "67torr", "fontSize": 46, "color": "#ff0000", "align": "center", "baseline": "alphabetic"}, "encoding": {"x": {"datum": 112.1}, "y": {"datum": 0.077}}},
   {"data": {"name": "dm2"}, "mark": {"type": "line", "color": "#dd0000", "strokeWidth": 3.5}, "encoding": {"x": {"field": "t", "type": "quantitative"}, "y": {"field": "v", "type": "quantitative"}}}
  ]},
  {"data": {"name": "nl2"}, "mark": {"type": "line", "color": "#0000d0", "strokeWidth": 4},
   "encoding": {"x": {"field": "t", "type": "quantitative"},
    "y": {"field": "v", "type": "quantitative", "scale": {"domain": [0, 10], "nice": false, "zero": false},
     "axis": {"orient": "right", "values": [0,0.5,1,1.5,2,2.5,3,3.5,4,4.5,5,5.5,6,6.5,7,7.5,8,8.5,9,9.5,10], "title": "NLcc [10¹³ cm⁻²]", "titleFontSize": 25, "grid": false, "tickSize": -6, "tickColor": "#0000d0", "tickWidth": 1.5, "labelPadding": 15, "labelExpr": "datum.value%2==0 ? format(datum.value,'~g') : ''", "titlePadding": 3}}}}
 ],
 "resolve": {"scale": {"y": "independent"}}
},
{
 "title": {"text": "215952", "fontSize": 21, "offset": -10},
 "width": 396, "height": 353,
 "layer": [
  {"layer": [
   {"data": {"values": [{}]}, "mark": {"type": "rect", "fill": {"expr": "hatchA"}, "strokeWidth": 0},
    "encoding": {
     "x": {"datum": 161, "type": "quantitative", "scale": {"domain": [50, 250], "nice": false, "zero": false},
       "axis": {"values": [50,100,150,200,250], "title": "Time(ms)", "titleFontSize": 21, "grid": true, "gridColor": "#0000d0", "gridDash": [5,2,1.5,2], "gridWidth": 1.5, "gridOpacity": {"condition": {"test": "datum.value>60 && datum.value<240", "value": 1}, "value": 0}, "ticks": false, "tickSize": 0, "labelPadding": 12, "titlePadding": 3, "format": "d"}},
     "x2": {"datum": 179},
     "y": {"datum": 0, "type": "quantitative", "scale": {"domain": [0, 1], "nice": false, "zero": false},
       "axis": {"orient": "left", "values": [0,0.05,0.1,0.15,0.2,0.25,0.3,0.35,0.4,0.45,0.5,0.55,0.6,0.65,0.7,0.75,0.8,0.85,0.9,0.95,1], "title": "DMcc [10⁻⁴ Wb]", "titleFontSize": 26, "grid": true, "gridColor": "#0000d0", "gridDash": [5,2,1.5,2], "gridWidth": 1.5, "gridOpacity": {"condition": {"test": "datum.value>0.01 && datum.value<0.99 && abs(datum.value*5-round(datum.value*5))<0.001", "value": 1}, "value": 0}, "tickSize": -6, "tickColor": "#0000d0", "tickWidth": 1.5, "labelPadding": 16, "labelExpr": "abs(datum.value*5-round(datum.value*5))<0.001 ? format(datum.value,'~g') : ''", "titlePadding": 8}},
     "y2": {"datum": 1}}},
   {"data": {"values": [{}]}, "mark": {"type": "rect", "fill": {"expr": "hatchB"}, "strokeWidth": 0}, "encoding": {"x": {"datum": 161}, "x2": {"datum": 179}, "y": {"datum": 0}, "y2": {"datum": 1}}},
   {"data": {"values": [{}]}, "mark": {"type": "rect", "fill": "white", "stroke": "black", "strokeWidth": 2.5}, "encoding": {"x": {"datum": 51}, "x2": {"datum": 111.4}, "y": {"datum": 0.897}, "y2": {"datum": 0.997}}},
   {"data": {"values": [{}]}, "mark": {"type": "rect", "fill": "white", "stroke": "black", "strokeWidth": 2.5}, "encoding": {"x": {"datum": 193}, "x2": {"datum": 249.2}, "y": {"datum": 0.897}, "y2": {"datum": 0.997}}},
   {"data": {"values": [{}]}, "mark": {"type": "rule", "color": "#dd0000", "strokeWidth": 2.5}, "encoding": {"x": {"datum": 55}, "x2": {"datum": 76.4}, "y": {"datum": 0.95}}},
   {"data": {"values": [{}]}, "mark": {"type": "rule", "color": "#0000d0", "strokeWidth": 2}, "encoding": {"x": {"datum": 197.2}, "x2": {"datum": 218}, "y": {"datum": 0.95}}},
   {"data": {"values": [{}]}, "mark": {"type": "text", "text": "DMcc", "fontSize": 22, "color": "#dd0000", "align": "left", "baseline": "middle"}, "encoding": {"x": {"datum": 78.4}, "y": {"datum": 0.95}}},
   {"data": {"values": [{}]}, "mark": {"type": "text", "text": "NLcc", "fontSize": 22, "color": "#0000d0", "align": "left", "baseline": "middle"}, "encoding": {"x": {"datum": 219.5}, "y": {"datum": 0.95}}},
   {"data": {"values": [{}]}, "mark": {"type": "text", "text": "65torr", "fontSize": 46, "color": "#ff0000", "align": "center", "baseline": "alphabetic"}, "encoding": {"x": {"datum": 113.1}, "y": {"datum": 0.071}}},
   {"data": {"values": [{}]}, "mark": {"type": "point", "shape": "M-1,-0.277L0.538,-0.277L0.538,-0.508L1,0L0.538,0.508L0.538,0.277L-1,0.277Z", "size": 16900, "filled": true, "color": "#3535c8", "opacity": 1, "strokeWidth": 0}, "encoding": {"x": {"datum": 295}, "y": {"datum": 0.093}}},
   {"data": {"name": "dm3"}, "mark": {"type": "line", "color": "#dd0000", "strokeWidth": 2.5}, "encoding": {"x": {"field": "t", "type": "quantitative"}, "y": {"field": "v", "type": "quantitative"}}}
  ]},
  {"data": {"name": "nl3"}, "mark": {"type": "line", "color": "#0000d0", "strokeWidth": 1.6},
   "encoding": {"x": {"field": "t", "type": "quantitative"},
    "y": {"field": "v", "type": "quantitative", "scale": {"domain": [0, 10], "nice": false, "zero": false},
     "axis": {"orient": "right", "values": [0,0.5,1,1.5,2,2.5,3,3.5,4,4.5,5,5.5,6,6.5,7,7.5,8,8.5,9,9.5,10], "title": "NLcc [10¹³ cm⁻²]", "titleFontSize": 25, "grid": false, "tickSize": -6, "tickColor": "#0000d0", "tickWidth": 1.5, "labelPadding": 15, "labelExpr": "datum.value%2==0 ? format(datum.value,'~g') : ''", "titlePadding": 3}}}}
 ],
 "resolve": {"scale": {"y": "independent"}}
},
{
 "title": {"text": "215953", "fontSize": 21, "offset": -10},
 "width": 396, "height": 353,
 "layer": [
  {"layer": [
   {"data": {"values": [{}]}, "mark": {"type": "rect", "fill": {"expr": "hatchA"}, "strokeWidth": 0},
    "encoding": {
     "x": {"datum": 161, "type": "quantitative", "scale": {"domain": [50, 250], "nice": false, "zero": false},
       "axis": {"values": [50,100,150,200,250], "title": "Time (ms)", "titleFontSize": 22, "grid": true, "gridColor": "#0000d0", "gridDash": [5,2,1.5,2], "gridWidth": 1.5, "gridOpacity": {"condition": {"test": "datum.value>60 && datum.value<240", "value": 1}, "value": 0}, "ticks": false, "tickSize": 0, "labelPadding": 12, "titlePadding": 3, "format": "d"}},
     "x2": {"datum": 179},
     "y": {"datum": 0, "type": "quantitative", "scale": {"domain": [0, 1], "nice": false, "zero": false},
       "axis": {"orient": "left", "values": [0,0.05,0.1,0.15,0.2,0.25,0.3,0.35,0.4,0.45,0.5,0.55,0.6,0.65,0.7,0.75,0.8,0.85,0.9,0.95,1], "title": "DMcc [10⁻⁴ Wb]", "titleFontSize": 21, "grid": true, "gridColor": "#0000d0", "gridDash": [5,2,1.5,2], "gridWidth": 1.5, "gridOpacity": {"condition": {"test": "datum.value>0.01 && datum.value<0.99 && abs(datum.value*5-round(datum.value*5))<0.001", "value": 1}, "value": 0}, "tickSize": -6, "tickColor": "#0000d0", "tickWidth": 1.5, "labelPadding": 16, "labelExpr": "abs(datum.value*5-round(datum.value*5))<0.001 ? format(datum.value,'~g') : ''", "titlePadding": 8}},
     "y2": {"datum": 1}}},
   {"data": {"values": [{}]}, "mark": {"type": "rect", "fill": {"expr": "hatchB"}, "strokeWidth": 0}, "encoding": {"x": {"datum": 161}, "x2": {"datum": 179}, "y": {"datum": 0}, "y2": {"datum": 1}}},
   {"data": {"values": [{}]}, "mark": {"type": "rect", "fill": "white", "stroke": "black", "strokeWidth": 2.5}, "encoding": {"x": {"datum": 51.5}, "x2": {"datum": 112.3}, "y": {"datum": 0.893}, "y2": {"datum": 0.997}}},
   {"data": {"values": [{}]}, "mark": {"type": "rect", "fill": "white", "stroke": "black", "strokeWidth": 2.5}, "encoding": {"x": {"datum": 193}, "x2": {"datum": 249.2}, "y": {"datum": 0.893}, "y2": {"datum": 0.997}}},
   {"data": {"values": [{}]}, "mark": {"type": "rule", "color": "#dd0000", "strokeWidth": 2.5}, "encoding": {"x": {"datum": 55.6}, "x2": {"datum": 76.9}, "y": {"datum": 0.95}}},
   {"data": {"values": [{}]}, "mark": {"type": "rule", "color": "#0000d0", "strokeWidth": 2}, "encoding": {"x": {"datum": 197.5}, "x2": {"datum": 217.7}, "y": {"datum": 0.95}}},
   {"data": {"values": [{}]}, "mark": {"type": "text", "text": "DMcc", "fontSize": 22, "color": "#dd0000", "align": "left", "baseline": "middle"}, "encoding": {"x": {"datum": 78.8}, "y": {"datum": 0.95}}},
   {"data": {"values": [{}]}, "mark": {"type": "text", "text": "NLcc", "fontSize": 22, "color": "#0000d0", "align": "left", "baseline": "middle"}, "encoding": {"x": {"datum": 220}, "y": {"datum": 0.95}}},
   {"data": {"values": [{}]}, "mark": {"type": "text", "text": "65torr", "fontSize": 46, "color": "#ff0000", "align": "center", "baseline": "alphabetic"}, "encoding": {"x": {"datum": 112.1}, "y": {"datum": 0.073}}},
   {"data": {"name": "dm4"}, "mark": {"type": "line", "color": "#dd0000", "strokeWidth": 2.5}, "encoding": {"x": {"field": "t", "type": "quantitative"}, "y": {"field": "v", "type": "quantitative"}}}
  ]},
  {"data": {"name": "nl4"}, "mark": {"type": "line", "color": "#0000d0", "strokeWidth": 1.6},
   "encoding": {"x": {"field": "t", "type": "quantitative"},
    "y": {"field": "v", "type": "quantitative", "scale": {"domain": [0, 10], "nice": false, "zero": false},
     "axis": {"orient": "right", "values": [0,0.5,1,1.5,2,2.5,3,3.5,4,4.5,5,5.5,6,6.5,7,7.5,8,8.5,9,9.5,10], "title": "NLcc [10¹³ cm⁻²]", "titleFontSize": 21, "grid": false, "tickSize": -6, "tickColor": "#0000d0", "tickWidth": 1.5, "labelPadding": 15, "labelExpr": "datum.value%2==0 ? format(datum.value,'~g') : ''", "titlePadding": 3}}}}
 ],
 "resolve": {"scale": {"y": "independent"}}
}
]
}
